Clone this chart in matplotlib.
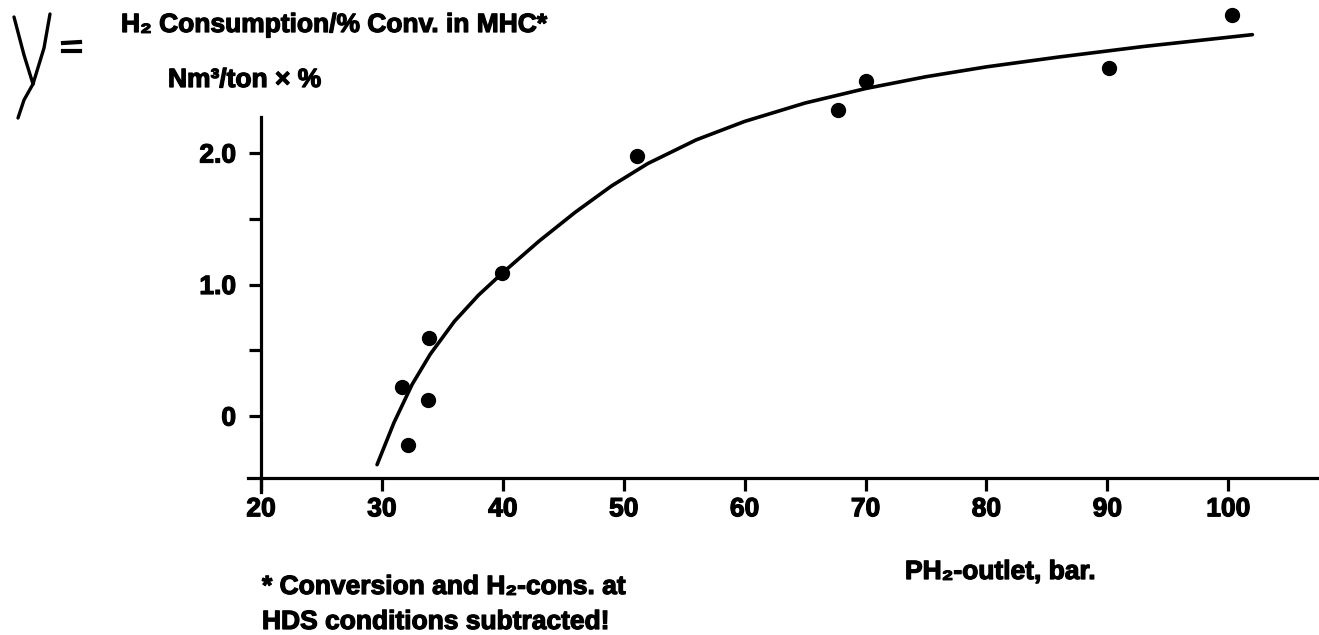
import numpy as np
import matplotlib
matplotlib.use("Agg")
import matplotlib.pyplot as plt
import matplotlib.patheffects as pe

plt.rcParams['font.family'] = ['Liberation Sans', 'DejaVu Sans']
plt.rcParams['font.weight'] = 'bold'

# measured H2 consumption per % conversion vs. H2 partial pressure
p_h2 = [31.7, 32.2, 33.9, 33.8, 39.9, 51.1, 67.7, 70.0, 90.1, 100.3]
h2_cons = [0.22, -0.22, 0.59, 0.12, 1.09, 1.98, 2.33, 2.55, 2.65, 3.05]

# hand-drawn trend curve through the data
curve_p = [29.6, 31.0, 32.5, 34.0, 36.0, 38.0, 40.0, 43.0, 46.0, 49.0, 52.0,
           56.0, 60.0, 65.0, 70.0, 75.0, 80.0, 86.0, 93.0, 102.0]
curve_y = [-0.37, -0.05, 0.24, 0.47, 0.72, 0.92, 1.09, 1.33, 1.55, 1.75, 1.92,
           2.10, 2.24, 2.38, 2.49, 2.58, 2.655, 2.73, 2.81, 2.90]

xticks = [20, 30, 40, 50, 60, 70, 80, 90, 100]
yticks = [0, 1, 2]
ytick_labels = ['0', '1.0', '2.0']
yminor = [0.5, 1.5]

W, H = 1319, 635
fig = plt.figure(figsize=(W / 100, H / 100), dpi=100)
ax = fig.add_axes([0, 0, 1, 1])
ax.patch.set_alpha(0)

# pixel scale: 12.09 px per bar, 131.5 px per unit
ax.set_xlim(20 - 261 / 12.09, 20 + (W - 261) / 12.09)
ax.set_ylim((416 - H) / 131.5, 416 / 131.5)

heavy = [pe.withStroke(linewidth=0.9, foreground='black')]

lw = 2.3
for side in ['top', 'right']:
    ax.spines[side].set_visible(False)
ax.spines['left'].set_position(('data', 20))
ax.spines['left'].set_bounds(-0.58, 2.27)
ax.spines['bottom'].set_position(('data', -0.47))
ax.spines['bottom'].set_bounds(18.9, 110)
for side in ['left', 'bottom']:
    ax.spines[side].set_linewidth(lw)

ax.set_xticks(xticks)
ax.set_xticklabels([str(t) for t in xticks])
ax.set_yticks(yticks)
ax.set_yticklabels(ytick_labels)
ax.set_yticks(yminor, minor=True)
ax.tick_params(axis='x', direction='out', length=9, width=lw, pad=5,
               labelsize=19)
ax.tick_params(axis='y', which='both', direction='out', length=9, width=lw,
               pad=9, labelsize=19)
for lab in ax.get_xticklabels() + ax.get_yticklabels():
    lab.set_path_effects(heavy)

ax.plot(curve_p, curve_y, color='black', lw=2.6, solid_capstyle='round',
        solid_joinstyle='round')
ax.plot(p_h2, h2_cons, 'o', color='black', ms=10)

# text and handwriting in pixel space
ov = fig.add_axes([0, 0, 1, 1])
ov.set_xlim(0, W)
ov.set_ylim(H, 0)
ov.axis('off')

txt = dict(fontsize=19, fontweight='bold', va='center', ha='left',
           path_effects=heavy)
ov.text(121, 25, 'H\u2082 Consumption/% Conv. in MHC*', **txt)
ov.text(168, 80, 'Nm\u00b3/ton \u00d7 %', **txt)
ov.text(905, 572, 'PH\u2082-outlet, bar.', **txt)
ov.text(262, 587, '* Conversion and H\u2082-cons. at', **txt)
ov.text(262, 622, 'HDS conditions subtracted!', **txt)

# handwritten "Y ="
hand = dict(color='black', lw=2.4, solid_capstyle='round')
ov.plot([14, 24, 33], [17, 55, 84], **hand)
ov.plot([50, 44, 33], [14, 48, 84], **hand)
ov.plot([33, 24, 18], [84, 100, 118], **hand)
ov.plot([63, 80], [43, 42], color='black', lw=3)
ov.plot([63, 80], [51, 51], color='black', lw=3)

fig.savefig('out.png', dpi=100)
